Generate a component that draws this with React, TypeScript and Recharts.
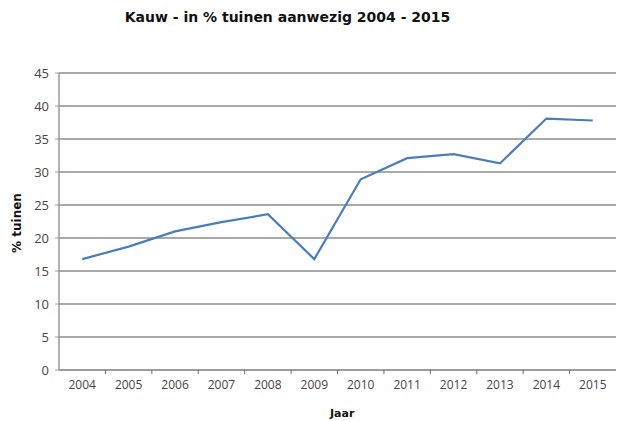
import React from "react";
import { LineChart, Line, XAxis, YAxis, CartesianGrid } from "recharts";

const years = [2004, 2005, 2006, 2007, 2008, 2009, 2010, 2011, 2012, 2013, 2014, 2015];
const pctTuinen = [16.8, 18.7, 21.0, 22.4, 23.6, 16.8, 28.9, 32.1, 32.7, 31.3, 38.1, 37.8];
const yTicks = [0, 5, 10, 15, 20, 25, 30, 35, 40, 45];
const bandTicks = [2004.5, 2005.5, 2006.5, 2007.5, 2008.5, 2009.5, 2010.5, 2011.5, 2012.5, 2013.5, 2014.5];
const xTicks = [...years, ...bandTicks].sort((a, b) => a - b);

const data = years.map((y, i) => ({ year: y, v: pctTuinen[i] }));

const font = "'Open Sans', 'Liberation Sans', Arial, sans-serif";
const boldFont = "'DejaVu Sans', Verdana, sans-serif";

const XTick = (props: any) => {
  const { x, y, payload } = props;
  const val = payload.value as number;
  if (Number.isInteger(val)) {
    return (
      <text x={x} y={y + 19} textAnchor="middle" fontSize={12} fill="#444" fontFamily={font}>
        {val}
      </text>
    );
  }
  return <line x1={x} x2={x} y1={y} y2={y + 4} stroke="#666" strokeWidth={1} />;
};

export default function App() {
  return (
    <div style={{ position: "absolute", left: 0, top: 0, width: 618, height: 421, background: "#fff" }}>
      <div
        style={{
          position: "absolute",
          left: 0,
          width: 575,
          top: 9,
          textAlign: "center",
          fontFamily: boldFont,
          fontWeight: 700,
          fontSize: 14,
          color: "#111",
        }}
      >
        Kauw - in % tuinen aanwezig 2004 - 2015
      </div>
      <div
        style={{
          position: "absolute",
          left: 330,
          top: 407,
          fontFamily: boldFont,
          fontWeight: 700,
          fontSize: 11,
          color: "#111",
        }}
      >
        Jaar
      </div>
      <div
        style={{
          position: "absolute",
          left: -13,
          top: 216,
          width: 60,
          textAlign: "center",
          transform: "rotate(-90deg)",
          fontFamily: boldFont,
          fontWeight: 700,
          fontSize: 12,
          color: "#111",
        }}
      >
        % tuinen
      </div>
      <LineChart
        width={618}
        height={421}
        data={data}
        margin={{ top: 73, right: 2, bottom: 21, left: 0 }}
      >
        <CartesianGrid vertical={false} stroke="#8c8c8c" strokeWidth={1.5} />
        <XAxis
          dataKey="year"
          type="number"
          domain={[2003.5, 2015.5]}
          ticks={xTicks}
          interval={0}
          tickLine={false}
          tickSize={0}
          tickMargin={0}
          axisLine={{ stroke: "#9a9a9a", strokeWidth: 1.5 }}
          tick={XTick}
          height={30}
          allowDataOverflow
        />
        <YAxis
          domain={[0, 45]}
          ticks={yTicks}
          interval={0}
          width={59}
          tickSize={4}
          tickLine={{ stroke: "#999" }}
          axisLine={{ stroke: "#9a9a9a", strokeWidth: 1.5 }}
          tick={{ fontSize: 13, fill: "#444", fontFamily: font }}
          tickMargin={6}
        />
        <Line
          type="linear"
          dataKey="v"
          stroke="#4a7ebb"
          strokeWidth={2.2}
          dot={false}
          isAnimationActive={false}
        />
      </LineChart>
    </div>
  );
}
